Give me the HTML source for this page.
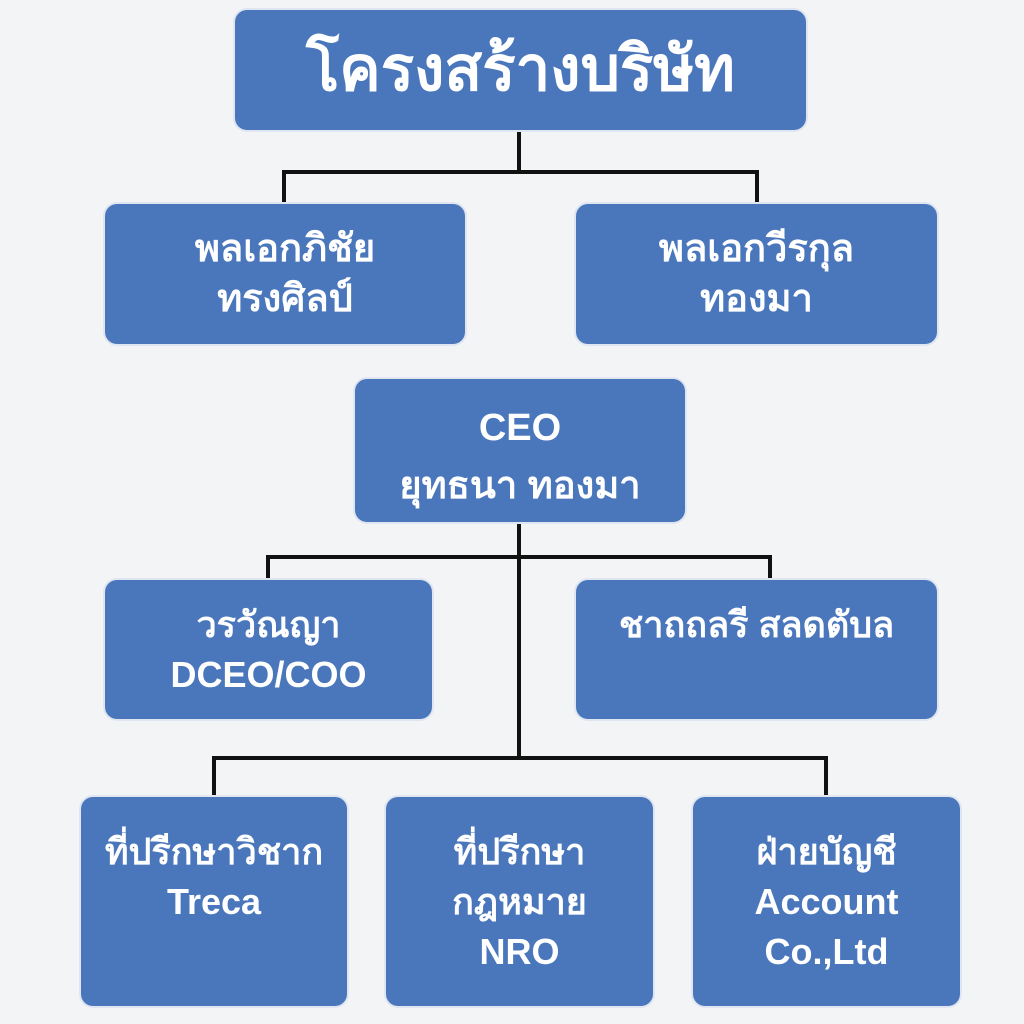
<!DOCTYPE html>
<html><head><meta charset="utf-8"><style>
body{margin:0;width:1024px;height:1024px;background:#f3f4f6;position:relative;overflow:hidden;font-family:"Liberation Sans","DejaVu Sans",sans-serif}
.b{position:absolute;background:#4a77bb;border-radius:12px;color:#fff;box-shadow:0 0 0 2px #dfe6f1;display:flex;flex-direction:column;align-items:center;text-align:center;font-size:36px;line-height:50px;font-weight:bold}
.l{position:absolute;background:#111}
</style></head><body>
<div class="l" style="left:517px;top:130px;width:4px;height:44px"></div>
<div class="l" style="left:282px;top:170px;width:477px;height:4px"></div>
<div class="l" style="left:282px;top:170px;width:4px;height:36px"></div>
<div class="l" style="left:755px;top:170px;width:4px;height:36px"></div>
<div class="l" style="left:517px;top:520px;width:4px;height:240px"></div>
<div class="l" style="left:266px;top:555px;width:506px;height:4px"></div>
<div class="l" style="left:266px;top:555px;width:4px;height:27px"></div>
<div class="l" style="left:768px;top:555px;width:4px;height:27px"></div>
<div class="l" style="left:212px;top:756px;width:616px;height:4px"></div>
<div class="l" style="left:212px;top:756px;width:4px;height:43px"></div>
<div class="l" style="left:824px;top:756px;width:4px;height:43px"></div>

<div class="b" style="left:235px;top:10px;width:571px;height:120px;justify-content:center;font-size:62px;line-height:64px">โครงสร้างบริษัท</div>
<div class="b" style="left:105px;top:204px;width:360px;height:140px;padding-top:20px;box-sizing:border-box;font-size:38px">พลเอกภิชัย<br>ทรงศิลป์</div>
<div class="b" style="left:576px;top:204px;width:361px;height:140px;padding-top:20px;box-sizing:border-box;font-size:38px">พลเอกวีรกุล<br>ทองมา</div>
<div class="b" style="left:355px;top:379px;width:330px;height:143px;padding-top:20px;box-sizing:border-box;line-height:58px;font-size:38px">CEO<br>ยุทธนา ทองมา</div>
<div class="b" style="left:105px;top:580px;width:327px;height:139px;padding-top:20px;box-sizing:border-box">วรวัณญา<br>DCEO/COO</div>
<div class="b" style="left:576px;top:580px;width:361px;height:139px;padding-top:20px;box-sizing:border-box">ชาถถลรี สลดตับล</div>
<div class="b" style="left:81px;top:797px;width:266px;height:209px;padding-top:30px;box-sizing:border-box">ที่ปรีกษาวิชาก<br>Treca</div>
<div class="b" style="left:386px;top:797px;width:267px;height:209px;padding-top:30px;box-sizing:border-box">ที่ปรีกษา<br>กฎหมาย<br>NRO</div>
<div class="b" style="left:693px;top:797px;width:267px;height:209px;padding-top:30px;box-sizing:border-box">ฝ่ายบัญชี<br>Account<br>Co.,Ltd</div>
</body></html>
